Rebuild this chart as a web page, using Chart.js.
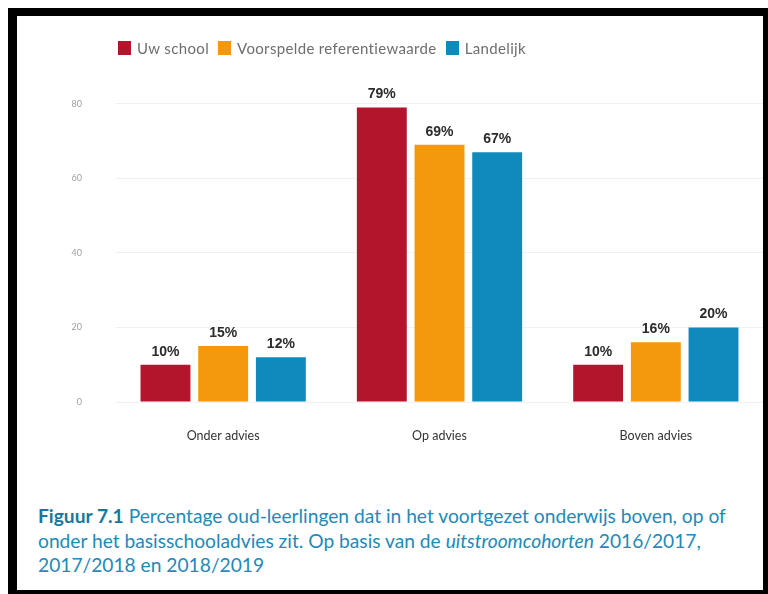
<!DOCTYPE html>
<html>
<head>
<meta charset="utf-8">
<script src="https://cdn.jsdelivr.net/npm/chart.js@4/dist/chart.umd.min.js"></script>
<style>
  body { margin: 0; width: 768px; height: 594px; background: #fff; position: relative; overflow: hidden; font-family: Lato, sans-serif; }
  #chart-wrap { position: absolute; left: 0; top: 0; width: 768px; height: 470px; }
  #frame { position: absolute; left: 8px; top: 8px; right: 0; bottom: 0; border-style: solid; border-color: #000; border-width: 8px 5px 4px 9px; pointer-events: none; z-index: 2; }
  #legend ul { position: absolute; left: 118px; top: 39px; margin: 0; padding: 0; list-style: none; display: flex; }
  #legend li { display: flex; align-items: center; margin-right: 9px; font-size: 15px; letter-spacing: 0.35px; color: #6e6e6e; }
  #legend li span.box { display: block; width: 13px; height: 14px; margin-right: 6px; }
  #caption { position: absolute; left: 38px; top: 504px; font-size: 19.2px; line-height: 24.5px; color: #2389b6; white-space: nowrap; }
  #caption b { color: #17789f; }
</style>
</head>
<body>
<div id="chart-wrap"><canvas id="advies-chart"></canvas></div>
<div id="legend"><ul></ul></div>
<div id="caption"><b>Figuur 7.1</b> Percentage oud-leerlingen dat in het voortgezet onderwijs boven, op of<br>onder het basisschooladvies zit. Op basis van de <i>uitstroomcohorten</i> 2016/2017,<br>2017/2018 en 2018/2019</div>
<div id="frame"></div>
<script>
// Categories and series (percentages)
const categories = ['Onder advies', 'Op advies', 'Boven advies'];
const uwSchool = [10, 79, 10];
const referentie = [15, 69, 16];
const landelijk = [12, 67, 20];
const yTicks = [0, 20, 40, 60, 80];

const colors = {
  red: '#b3152c',
  orange: '#f4980e',
  blue: '#1089bd',
};

// Draws the "NN%" value above each bar
const barValues = {
  id: 'barValues',
  afterDatasetsDraw(c) {
    const { ctx } = c;
    ctx.save();
    ctx.font = 'bold 14px "Liberation Sans", Arial, sans-serif';
    ctx.fillStyle = '#2b2b2b';
    ctx.textAlign = 'center';
    ctx.textBaseline = 'bottom';
    c.data.datasets.forEach((ds, i) => {
      c.getDatasetMeta(i).data.forEach((bar, j) => {
        ctx.fillText(`${ds.data[j]}%`, bar.x, bar.y - 6);
      });
    });
    ctx.restore();
  },
};

// Legend built as HTML, left aligned above the plot
const htmlLegend = {
  id: 'htmlLegend',
  afterUpdate(c) {
    const ul = document.querySelector('#legend ul');
    while (ul.firstChild) ul.firstChild.remove();
    c.data.datasets.forEach((ds) => {
      const li = document.createElement('li');
      const box = document.createElement('span');
      box.className = 'box';
      box.style.backgroundColor = ds.backgroundColor;
      const label = document.createElement('span');
      label.textContent = ds.label;
      li.appendChild(box);
      li.appendChild(label);
      ul.appendChild(li);
    });
  },
};

const ctx = document.getElementById('advies-chart');
// eslint-disable-next-line no-unused-vars
const chart = new Chart(ctx, {
  type: 'bar',
  data: {
    labels: categories,
    datasets: [
      { label: 'Uw school', data: uwSchool, backgroundColor: colors.red },
      { label: 'Voorspelde referentiewaarde', data: referentie, backgroundColor: colors.orange },
      { label: 'Landelijk', data: landelijk, backgroundColor: colors.blue },
    ],
  },
  options: {
    responsive: true,
    maintainAspectRatio: false,
    animation: false,
    layout: {
      padding: { top: 85, right: 4, left: 0, bottom: 0 },
    },
    datasets: {
      bar: { categoryPercentage: 0.8, barPercentage: 0.865 },
    },
    plugins: {
      legend: { display: false },
      tooltip: { enabled: false },
    },
    scales: {
      x: {
        grid: { display: false },
        border: { display: false },
        ticks: {
          padding: 18,
          color: '#333',
          font: { family: 'Lato', size: 12.5 },
        },
        afterFit(scale) { scale.height = 68; },
      },
      y: {
        min: 0,
        max: 85,
        border: { display: false },
        grid: { color: '#f1f1f1', drawTicks: false },
        ticks: {
          stepSize: 20,
          padding: 33,
          color: '#a0a0a0',
          font: { family: 'Lato', size: 9 },
        },
        afterBuildTicks(scale) {
          scale.ticks = yTicks.map((v) => ({ value: v }));
        },
        afterFit(scale) { scale.width = 115; },
      },
    },
  },
  plugins: [barValues, htmlLegend],
});
</script>
</body>
</html>
